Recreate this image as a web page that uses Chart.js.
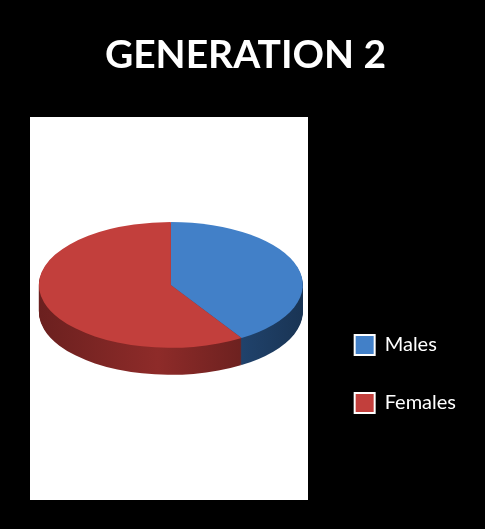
<!DOCTYPE html>
<html>
<head>
<meta charset="utf-8">
<script src="https://cdn.jsdelivr.net/npm/chart.js@4"></script>
<style>
  html, body { margin: 0; padding: 0; background: #000; }
  #wrap { width: 485px; height: 529px; }
</style>
</head>
<body>
<div id="wrap"><canvas id="gen2"></canvas></div>
<script>
// chart data
const titleText = 'GENERATION 2';
const labels = ['Males', 'Females'];
const values = [41, 59];
const topColors = ['#4280c8', '#c23f3c'];
const sideColors = ['#2a568c', '#8e2b29'];

const TILT = 0.477;   // vertical squash of the pie
const DEPTH = 27;     // thickness of the disc in px

// white panel behind the pie
const panelPlugin = {
    id: 'panel',
    beforeDraw(chart) {
        const ctx = chart.ctx;
        ctx.save();
        ctx.fillStyle = '#ffffff';
        ctx.fillRect(30, 117, 278, 383);
        ctx.restore();
    }
};

// squashes the pie into an ellipse and adds a side wall
const tiltPlugin = {
    id: 'tilt',
    beforeDatasetsDraw(chart) {
        const ctx = chart.ctx;
        const arcs = chart.getDatasetMeta(0).data;
        if (!arcs.length) return;
        const cx = arcs[0].x, cy = arcs[0].y, r = arcs[0].outerRadius;

        // side wall: the arcs drawn again, stepped down
        for (let d = DEPTH; d >= 1; d--) {
            ctx.save();
            ctx.translate(0, d);
            ctx.translate(cx, cy);
            ctx.scale(1, TILT);
            ctx.translate(-cx, -cy);
            arcs.forEach((arc, i) => {
                const g = ctx.createLinearGradient(cx - r, 0, cx + r, 0);
                g.addColorStop(0, shade(sideColors[i], 0.75));
                g.addColorStop(0.45, sideColors[i]);
                g.addColorStop(1, shade(sideColors[i], 0.6));
                const saved = arc.options.backgroundColor;
                arc.options.backgroundColor = g;
                arc.draw(ctx);
                arc.options.backgroundColor = saved;
            });
            ctx.restore();
        }

        ctx.save();
        ctx.translate(cx, cy);
        ctx.scale(1, TILT);
        ctx.translate(-cx, -cy);
    },
    afterDatasetsDraw(chart) {
        if (chart.getDatasetMeta(0).data.length) chart.ctx.restore();
    }
};

function shade(hex, f) {
    const n = parseInt(hex.slice(1), 16);
    const r = Math.round(((n >> 16) & 255) * f);
    const g = Math.round(((n >> 8) & 255) * f);
    const b = Math.round((n & 255) * f);
    return `rgb(${r}, ${g}, ${b})`;
}

const ctx = document.getElementById('gen2');

new Chart(ctx, {
    type: 'pie',
    data: {
        labels: labels,
        datasets: [{
            data: values,
            backgroundColor: topColors,
            borderWidth: 0,
            clip: false
        }]
    },
    options: {
        responsive: true,
        maintainAspectRatio: false,
        animation: false,
        events: [],
        radius: 132,
        layout: {
            padding: { left: 25, right: 19, top: 0, bottom: 78 }
        },
        plugins: {
            title: {
                display: true,
                text: titleText,
                color: '#ffffff',
                font: { family: 'Lato', size: 39, weight: 'bold' },
                padding: { top: 32, bottom: 40 }
            },
            legend: {
                position: 'right',
                align: 'end',
                labels: {
                    color: '#ffffff',
                    font: { family: 'Lato', size: 20 },
                    boxWidth: 20,
                    boxHeight: 20,
                    padding: 38,
                    generateLabels(chart) {
                        return labels.map((l, i) => ({
                            text: l,
                            fillStyle: topColors[i],
                            strokeStyle: '#ffffff',
                            fontColor: '#ffffff',
                            lineWidth: 2,
                            index: i
                        }));
                    }
                }
            },
            tooltip: { enabled: false }
        }
    },
    plugins: [panelPlugin, tiltPlugin]
});
</script>
</body>
</html>
